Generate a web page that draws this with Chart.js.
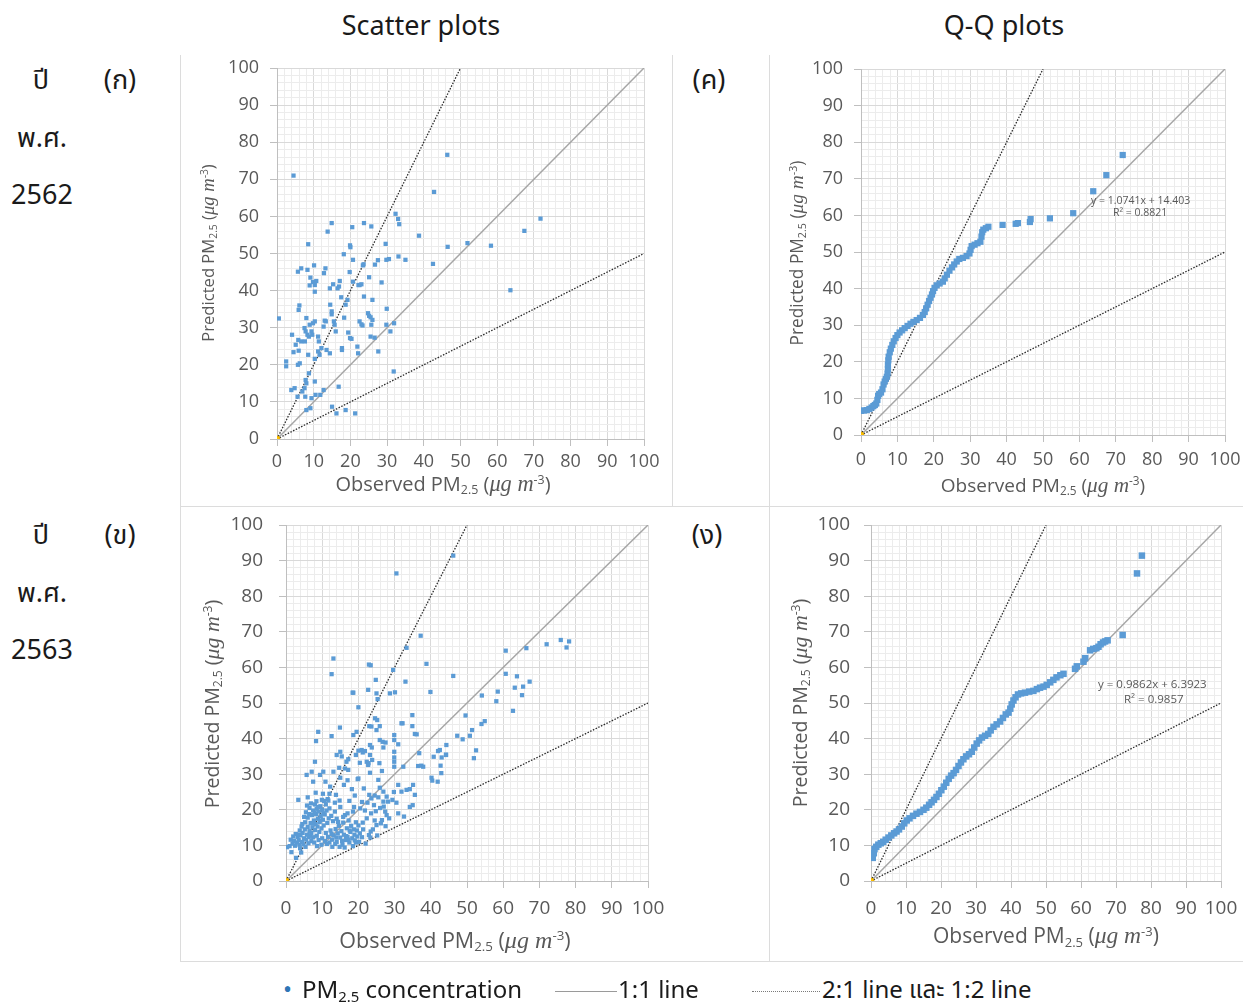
<!DOCTYPE html>
<html>
<head>
<meta charset="utf-8">
<script src="https://cdn.jsdelivr.net/npm/chart.js@4.4.1/dist/chart.umd.min.js"></script>
<style>
  body { margin: 0; background: #fff; }
  #page { position: relative; width: 1243px; height: 1005px; overflow: hidden; font-family: "Open Sans", sans-serif; }
  canvas { position: absolute; }
  .lbl { position: absolute; transform: translate(-50%, -50%); white-space: nowrap; color: #1a1a1a; font-size: 27px; font-family: "Noto Sans Thai", "Noto Sans", "Open Sans", sans-serif; }
  .axt { position: absolute; white-space: nowrap; color: #595959; font-family: "Open Sans", sans-serif; }
  .axt i { font-family: "Liberation Serif", serif; font-size: 1.12em; }
  .axt sub { font-size: 0.62em; vertical-align: -0.25em; }
  .axt sup { font-size: 0.62em; vertical-align: 0.6em; }
  .rot { transform: translate(-50%, -50%) rotate(-90deg); }
  .hor { transform: translate(-50%, -50%); }
  .eq { position: absolute; white-space: nowrap; color: #595959; transform: translateY(-50%); font-family: "Open Sans", sans-serif; }
  .rule { position: absolute; background: #dcdcdc; }
  .leg { position: absolute; white-space: nowrap; color: #1a1a1a; font-size: 24px; transform: translateY(-50%); font-family: "Noto Sans Thai", "Noto Sans", "Open Sans", sans-serif; }
  .leg sub { font-size: 0.62em; vertical-align: -0.3em; }
</style>
</head>
<body>
<div id="page">
  <div class="rule" style="left:180px;top:55px;width:1px;height:906px"></div>
  <div class="rule" style="left:672px;top:55px;width:1px;height:451px"></div>
  <div class="rule" style="left:769px;top:55px;width:1px;height:906px"></div>
  <div class="rule" style="left:180px;top:506px;width:1063px;height:1px"></div>
  <div class="rule" style="left:180px;top:961px;width:1063px;height:1px"></div>

  <canvas id="panelA"></canvas>
  <canvas id="panelB"></canvas>
  <canvas id="panelC"></canvas>
  <canvas id="panelD"></canvas>

  <div class="lbl" style="left:421px;top:26px">Scatter plots</div>
  <div class="lbl" style="left:1004px;top:26px">Q-Q plots</div>

  <div class="lbl" style="left:41px;top:80px">ปี</div>
  <div class="lbl" style="left:120px;top:80px">(ก)</div>
  <div class="lbl" style="left:42px;top:138px">พ.ศ.</div>
  <div class="lbl" style="left:42px;top:195px">2562</div>
  <div class="lbl" style="left:41px;top:535px">ปี</div>
  <div class="lbl" style="left:120px;top:535px">(ข)</div>
  <div class="lbl" style="left:42px;top:593px">พ.ศ.</div>
  <div class="lbl" style="left:42px;top:650px">2563</div>
  <div class="lbl" style="left:709px;top:80px">(ค)</div>
  <div class="lbl" style="left:707px;top:535px">(ง)</div>

  <div class="axt rot" style="left:208px;top:253px;font-size:16.6px">Predicted PM<sub>2.5</sub> (<i>μg m</i><sup>-3</sup>)</div>
  <div class="axt hor" style="left:443px;top:484px;font-size:20px">Observed PM<sub>2.5</sub> (<i>μg m</i><sup>-3</sup>)</div>
  <div class="axt rot" style="left:797px;top:253px;font-size:17.3px">Predicted PM<sub>2.5</sub> (<i>μg m</i><sup>-3</sup>)</div>
  <div class="axt hor" style="left:1043px;top:485px;font-size:19px">Observed PM<sub>2.5</sub> (<i>μg m</i><sup>-3</sup>)</div>
  <div class="axt rot" style="left:212px;top:704px;font-size:19.5px">Predicted PM<sub>2.5</sub> (<i>μg m</i><sup>-3</sup>)</div>
  <div class="axt hor" style="left:455px;top:940px;font-size:21.5px">Observed PM<sub>2.5</sub> (<i>μg m</i><sup>-3</sup>)</div>
  <div class="axt rot" style="left:800px;top:703px;font-size:19.5px">Predicted PM<sub>2.5</sub> (<i>μg m</i><sup>-3</sup>)</div>
  <div class="axt hor" style="left:1046px;top:936px;font-size:21px">Observed PM<sub>2.5</sub> (<i>μg m</i><sup>-3</sup>)</div>

  <div class="eq" style="left:1091px;top:200px;font-size:10.5px">y = 1.0741x + 14.403</div>
  <div class="eq" style="left:1113px;top:212px;font-size:10.5px">R² = 0.8821</div>
  <div class="eq" style="left:1098px;top:683px;font-size:11.5px">y = 0.9862x + 6.3923</div>
  <div class="eq" style="left:1124px;top:698px;font-size:11.5px">R² = 0.9857</div>

  <div class="leg" style="left:283px;top:991px;color:#2e75b6">•</div>
  <div class="leg" style="left:302px;top:991px">PM<sub>2.5</sub> concentration</div>
  <div class="rule" style="left:555px;top:991px;width:62px;height:1px;background:#9a9a9a"></div>
  <div class="leg" style="left:618px;top:991px">1:1 line</div>
  <div class="rule" style="left:752px;top:991px;width:68px;height:0;border-top:1px dotted #7a7a7a;background:none"></div>
  <div class="leg" style="left:822px;top:991px">2:1 line และ 1:2 line</div>
</div>

<script>
// axis ticks (labels every 10, minor grid every 2)
const axisMin = 0;
const axisMax = 100;
const minorStep = 2;
const majorStep = 10;

// reference lines
const lineOneToOne = [[0, 0], [100, 100]];
const lineTwoToOne = [[0, 0], [50, 100]];
const lineOneToTwo = [[0, 0], [100, 50]];
const originMark = [[0, 0]];

// (ก) scatter 2562: [observed, predicted]
const scatter2562 = [
  [0.5,32.5],[4.5,71.0],[2.5,20.9],[2.5,19.6],[3.9,13.2],[4.8,13.7],[4.1,28.1],[4.5,23.4],[5.1,25.4],[5.7,45.1],
  [6.6,46.0],[5.9,34.8],[6.1,36.0],[5.8,26.7],[5.7,20.0],[6.2,20.4],[5.9,23.8],[5.6,11.4],[6.9,12.8],[6.6,26.3],
  [7.5,29.9],[7.8,29.0],[7.6,26.3],[8.5,52.5],[8.3,45.6],[8.9,41.4],[9.1,43.5],[8.0,32.6],[8.3,28.1],[8.7,27.6],
  [8.9,30.8],[9.4,29.0],[9.8,31.2],[8.5,22.7],[8.7,17.7],[7.8,15.9],[8.0,15.0],[7.5,13.7],[7.7,11.4],[8.0,7.8],
  [9.1,8.3],[9.4,11.0],[10.5,11.9],[10.3,15.5],[10.1,46.8],[9.8,42.3],[10.3,41.5],[10.3,39.7],[10.7,42.6],[10.3,31.7],
  [9.6,28.1],[10.3,21.6],[11.2,27.6],[11.4,26.3],[11.2,23.6],[11.6,22.7],[12.1,24.5],[11.8,11.9],[12.7,13.2],[12.7,30.3],
  [12.8,44.7],[13.2,46.0],[13.0,31.9],[13.3,31.7],[13.5,24.0],[13.8,55.9],[14.9,58.2],[14.4,40.6],[14.5,36.2],[14.9,34.4],
  [14.9,33.6],[15.3,41.7],[14.4,23.1],[15.0,8.7],[15.5,31.7],[15.7,30.8],[16.0,29.0],[16.2,6.9],[16.5,40.6],[16.9,41.1],
  [17.1,42.6],[16.8,14.1],[17.5,38.2],[17.7,24.5],[17.7,24.0],[18.2,49.8],[18.3,32.7],[18.7,36.2],[19.2,37.5],[19.4,28.7],
  [18.7,7.8],[19.9,52.2],[20.0,51.7],[19.8,45.0],[19.9,27.2],[20.3,27.0],[20.5,57.1],[20.7,48.3],[20.7,42.4],[21.3,6.9],
  [21.9,24.9],[22.1,23.1],[22.2,41.5],[22.5,41.5],[23.0,41.7],[22.5,31.7],[23.0,30.9],[23.3,30.6],[23.4,46.8],[23.6,47.1],
  [23.7,58.2],[23.7,38.4],[24.8,33.9],[25.1,33.2],[25.1,43.6],[25.7,57.3],[25.5,32.8],[26.0,32.1],[25.7,30.8],[25.5,27.6],
  [26.0,37.5],[26.7,47.0],[26.6,27.3],[27.5,48.2],[27.6,23.6],[28.5,42.2],[29.6,52.6],[29.8,48.3],[30.5,48.5],[29.9,35.1],
  [29.8,30.8],[30.9,29.0],[31.8,18.2],[31.9,31.2],[32.3,60.7],[33.0,59.3],[33.3,57.9],[33.1,49.2],[35.0,48.3],[38.7,54.8],
  [42.5,47.2],[42.8,66.6],[46.4,76.6],[46.5,51.8],[51.9,52.8],[58.3,52.1],[63.6,40.1],[67.4,56.1],[71.8,59.4]
];

// (ข) scatter 2563: [observed, predicted]
const scatter2563 = [
  [46.2,91.4],[30.5,86.4],[37.2,68.9],[33.3,65.5],[13.1,62.5],[12.6,58.1],[22.9,60.8],[23.4,60.6],[38.8,61.0],[29.6,59.3],
  [24.8,56.5],[33.0,56.0],[18.6,52.9],[22.7,53.7],[28.7,52.7],[30.1,53.0],[39.9,53.1],[25.3,51.1],[20.0,48.8],[46.2,57.6],
  [60.7,64.7],[66.4,65.4],[72.0,66.5],[75.9,67.7],[78.2,67.3],[77.5,65.6],[60.7,58.2],[63.8,57.5],[67.3,56.0],[63.2,54.3],
  [65.5,54.6],[65.2,52.2],[58.5,53.2],[58.1,50.5],[62.7,47.8],[54.1,52.1],[49.6,46.5],[54.0,44.1],[54.9,44.9],[47.3,40.8],
  [48.8,39.8],[50.8,40.8],[51.4,42.4],[52.5,36.7],[51.9,34.5],[44.3,38.2],[44.2,35.4],[43.0,34.7],[42.7,32.4],[42.9,30.3],
  [42.5,36.8],[29.9,41.0],[29.9,39.6],[29.9,36.3],[29.9,34.7],[29.9,33.5],[29.9,32.1],[31.0,38.4],[32.2,44.3],[34.9,46.6],
  [34.9,43.5],[36.1,41.2],[36.8,35.9],[37.4,32.4],[37.9,32.1],[40.2,29.0],[40.4,28.2],[41.9,27.9],[40.8,34.9],[42.0,36.5],
  [44.2,35.5],[31.0,27.0],[31.9,25.1],[33.3,25.6],[34.2,25.8],[35.1,27.0],[35.6,24.2],[35.0,21.3],[34.2,20.8],[29.4,22.8],
  [31.0,19.0],[32.6,18.1],[25.9,26.2],[26.9,25.1],[27.8,23.7],[26.9,22.3],[27.0,20.9],[27.4,19.5],[27.8,18.5],[28.5,17.6],
  [25.0,15.7],[26.2,16.2],[26.5,17.1],[22.3,17.6],[23.4,13.9],[22.9,12.9],[20.4,13.4],[19.7,12.5],[23.0,24.2],[23.6,23.2],
  [24.3,21.3],[26.5,30.9],[25.8,33.1],[14.9,43.1],[12.6,40.7],[8.9,41.9],[8.3,39.3],[8.0,33.5],[14.0,35.4],[13.1,30.7],
  [14.7,31.8],[15.4,35.0],[5.7,29.8],[3.4,22.8],[7.1,30.7],[7.5,27.9],[9.4,29.8],[10.3,30.7],[10.9,27.9],[16.7,33.5],
  [17.2,31.2],[18.6,41.0],[19.5,41.9],[18.4,52.9],[20.9,36.8],[21.2,36.1],[21.8,36.5],[22.3,33.5],[22.8,33.1],[23.2,38.2],
  [23.7,37.5],[24.6,45.7],[25.2,45.2],[25.0,52.7],[25.9,39.6],[26.7,39.1],[27.5,38.9],[23.0,43.5],[23.6,43.4],[25.0,42.4],
  [25.9,43.5],[31.9,44.3],[35.6,41.3],[20.0,36.6],[19.3,35.4],[17.2,34.2],[23.2,35.4],[23.8,34.0],[26.9,37.5],[32.4,32.1],
  [36.5,32.3],[15.0,36.3],[16.3,31.6],[20.4,33.2],[22.7,32.6],[20.0,28.8],[23.2,30.4],[25.5,28.4],
  [11.5,23.0],[12.2,26.5],[13.8,24.2],[16.0,27.0],[17.5,22.5],[18.2,25.8],[19.0,24.0],[19.8,28.6],[21.0,22.2],[21.5,26.0],
  [15.0,29.0],[17.0,28.3],[18.8,20.8],[20.5,20.4],[21.8,19.8],[22.5,22.0],[24.5,24.0],[25.5,23.5],[24.8,19.6],[23.5,19.0],
  [21.2,16.4],[20.0,15.6],[24.0,14.5],[22.0,10.5],[21.0,12.3],[19.3,10.8],[24.5,17.0],[25.2,12.8],[23.3,12.2],[21.3,14.5],
  [27.5,15.4],[26.0,20.5],[28.2,22.3],[29.8,25.0],[30.5,22.0],
  [0.3,9.5],[1.0,9.8],[1.5,8.1],[1.8,10.5],[2.2,11.2],[2.5,9.9],[2.8,6.5],[3.0,10.8],[3.2,12.4],[3.5,11.5],
  [3.7,10.2],[4.0,12.8],[4.2,8.0],[4.4,11.0],[4.6,13.5],[4.8,10.3],[5.0,12.0],[5.2,14.5],[5.3,16.5],[5.5,19.3],
  [5.6,11.6],[5.8,13.0],[6.0,15.2],[6.0,17.8],[6.2,10.6],[6.3,12.4],[6.5,14.0],[6.5,20.5],[6.8,16.3],[7.0,11.2],
  [7.0,13.5],[7.2,18.5],[7.3,15.1],[7.5,12.3],[7.5,19.8],[7.7,17.0],[7.8,10.8],[8.0,14.3],[8.0,21.5],[8.2,16.0],
  [8.3,18.8],[8.5,12.7],[8.5,20.3],[8.7,15.3],[8.8,17.5],[9.0,11.5],[9.0,19.5],[9.2,13.8],[9.3,16.6],[9.5,21.0],
  [9.6,18.2],[9.8,14.8],[10.0,12.0],[10.0,20.0],[10.2,17.2],[10.4,15.6],[10.5,22.5],[10.7,18.7],[10.8,11.2],[11.0,13.5],
  [11.2,19.8],[11.4,16.3],[11.6,12.4],[11.8,17.6],[12.0,10.8],[12.0,20.4],[12.3,14.2],[12.5,18.3],[12.7,11.6],[13.0,16.8],
  [13.2,12.8],[13.5,19.5],[13.7,14.6],[14.0,11.0],[14.0,17.5],[14.3,13.4],[14.6,15.5],[15.0,12.2],[15.0,20.8],[15.3,14.0],
  [15.6,10.2],[15.8,16.4],[16.0,13.0],[16.3,18.5],[16.5,11.5],[16.8,14.8],[17.0,12.4],[17.3,17.0],[17.5,10.8],[17.8,13.8],
  [18.0,15.5],[18.3,12.0],[18.5,19.5],[18.8,14.5],[19.0,11.4],[19.3,16.5],
  [4.5,16.0],[5.0,18.0],[5.8,21.2],[6.4,18.8],[6.9,21.8],[7.4,16.2],[7.9,19.2],[8.4,22.4],[8.9,20.8],[9.4,17.0],
  [9.9,22.8],[10.3,19.0],[11.0,21.5],[11.7,22.6],[3.8,14.2],[4.3,15.3],[2.7,13.2],[3.6,13.0],[6.7,12.8],[5.4,9.6],
  [3.9,9.2],[2.0,12.5],[1.3,11.6],[8.6,9.8],[9.8,10.2],[11.3,10.4],[12.8,9.6],[13.6,10.4],[14.8,9.6],[16.2,9.4],
  [17.2,11.6],[18.5,9.8],[20.2,11.0],[12.6,13.2],[13.9,12.2],[15.5,11.2],[16.6,12.6],[17.6,14.2],[18.9,13.0],[19.6,14.2],
  [14.4,16.6],[15.8,18.0],[17.0,19.0],[12.0,24.5],[10.2,24.5],[8.2,24.8],[6.0,23.5],[13.5,22.0],[14.8,22.6]
];

// (ค) Q-Q 2562: [observed quantile, predicted quantile]
const qq2562 = [
  [0,6.6],[0.8,6.7],[1.6,6.8],[2.3,7.1],[2.9,7.5],[3.4,7.9],[3.8,8.2],[4.2,8.6],[4.5,9.6],[4.7,10.7],
  [5.0,11.2],[5.5,11.6],[5.9,12.5],[6.2,13.8],[6.5,14.6],[6.8,15.3],[7.1,15.9],[7.3,16.8],[7.4,18.0],[7.4,19.2],
  [7.5,20.4],[7.6,21.4],[7.9,22.6],[8.2,23.6],[8.6,24.6],[9.0,25.6],[9.5,26.5],[10.0,27.3],[10.6,28.0],[11.3,28.6],
  [12.0,29.2],[12.8,29.8],[13.6,30.4],[14.4,30.9],[15.3,31.4],[16.2,32.0],[17.0,32.8],[17.5,33.6],[17.9,34.6],[18.3,35.6],
  [18.7,36.6],[19.1,37.5],[19.5,38.4],[19.8,39.3],[20.2,40.2],[20.8,40.9],[21.6,41.4],[22.5,41.9],[23.0,42.8],[23.6,43.8],
  [24.3,44.9],[25.0,45.8],[25.6,46.6],[26.3,47.4],[27.0,48.1],[28.0,48.4],[29.0,48.9],[29.8,49.6],[30.1,50.6],[30.4,51.6],
  [31.2,52.0],[32.0,52.4],[32.8,52.8],[33.1,54.2],[33.3,55.4],[33.6,56.1],[34.3,56.5],[35.0,56.9],[38.9,57.4],[42.5,57.7],
  [43.1,57.9],[46.4,58.2],[46.6,59.0],[51.9,59.2],[58.3,60.6],[63.8,66.6],[67.4,71.0],[71.9,76.5]
];

// (ง) Q-Q 2563: [observed quantile, predicted quantile]
const qq2563 = [
  [0.5,6.5],[0.8,7.8],[1.0,9.0],[1.5,9.6],[2.1,10.2],[2.8,10.6],[3.5,11.0],[4.2,11.6],[5.0,12.2],[5.8,12.8],
  [6.6,13.4],[7.3,13.9],[8.0,14.5],[8.8,15.3],[9.5,16.2],[10.2,17.0],[11.0,17.6],[12.0,18.3],[13.0,18.9],[14.0,19.4],
  [15.0,20.0],[15.8,20.6],[16.6,21.4],[17.3,22.1],[18.0,22.8],[18.7,23.6],[19.4,24.5],[20.1,25.5],[20.8,26.5],[21.5,27.6],
  [22.2,28.7],[22.9,29.6],[23.6,30.3],[24.3,31.2],[25.0,32.3],[25.7,33.3],[26.4,34.2],[27.2,35.0],[28.0,35.6],[28.8,36.3],
  [29.5,37.5],[30.2,38.6],[30.9,39.5],[31.7,40.3],[32.6,40.8],[33.5,41.3],[34.2,42.3],[35.0,43.3],[35.9,44.0],[36.9,44.8],
  [37.7,45.8],[38.5,46.8],[39.3,47.3],[39.8,48.4],[40.2,49.6],[40.7,50.7],[41.3,51.6],[42.0,52.4],[42.9,52.7],[44.0,52.9],
  [45.2,53.2],[46.4,53.4],[47.4,53.9],[48.3,54.3],[49.3,54.6],[50.2,55.1],[51.2,55.8],[52.1,56.5],[53.0,57.2],[54.1,57.8],
  [55.0,58.2],[58.3,59.6],[58.8,60.3],[60.7,61.6],[61.2,62.6],[62.6,64.8],[63.5,65.2],[64.4,65.4],[65.0,65.8],[65.6,66.5],
  [66.3,67.0],[66.9,67.3],[67.6,67.6],[71.9,69.1],[76.0,86.4],[77.4,91.4]
];

const pointColor = '#5b9bd5';
const toXY = arr => arr.map(p => ({ x: p[0], y: p[1] }));

const makePanel = (id, points, cfg) => {
  const canvas = document.getElementById(id);
  canvas.width = cfg.w;
  canvas.height = cfg.h;
  canvas.style.left = cfg.left + 'px';
  canvas.style.top = cfg.top + 'px';

  const isMajor = ctx => ctx.tick && ctx.tick.value % majorStep === 0;
  const axis = (pad, fit) => ({
    type: 'linear',
    min: axisMin,
    max: axisMax,
    afterFit: fit,
    border: { color: '#bfbfbf', width: 1 },
    grid: {
      color: ctx => isMajor(ctx) ? '#d9d9d9' : '#ececec',
      tickColor: ctx => isMajor(ctx) ? '#bfbfbf' : 'rgba(0,0,0,0)',
      tickLength: 7,
      lineWidth: 1
    },
    ticks: {
      stepSize: minorStep,
      autoSkip: false,
      maxRotation: 0,
      padding: pad,
      color: '#595959',
      font: { family: '"Open Sans", sans-serif', size: cfg.font },
      callback: v => (v % majorStep === 0 ? v : '')
    }
  });

  new Chart(canvas.getContext('2d'), {
    type: 'scatter',
    data: {
      datasets: [
        {
          data: toXY(originMark),
          pointStyle: 'circle', pointRadius: 3,
          backgroundColor: '#ffc000', borderColor: '#e0a800', borderWidth: 1
        },
        {
          data: toXY(points),
          pointStyle: 'rect', pointRadius: cfg.r,
          backgroundColor: pointColor, borderColor: pointColor, borderWidth: 0
        },
        {
          data: toXY(lineOneToOne), showLine: true, pointRadius: 0,
          borderColor: '#a6a6a6', borderWidth: 1.5
        },
        {
          data: toXY(lineTwoToOne), showLine: true, pointRadius: 0,
          borderColor: '#2a2a2a', borderWidth: 1.3, borderDash: [1.5, 1.5]
        },
        {
          data: toXY(lineOneToTwo), showLine: true, pointRadius: 0,
          borderColor: '#2a2a2a', borderWidth: 1.3, borderDash: [1.5, 1.5]
        }
      ]
    },
    options: {
      responsive: false,
      animation: false,
      devicePixelRatio: 1,
      layout: { padding: { top: cfg.padTop, right: cfg.padRight, left: 0, bottom: 0 } },
      plugins: { legend: { display: false }, tooltip: { enabled: false } },
      scales: {
        x: axis(cfg.xPad, s => { s.height = cfg.xH; s.paddingLeft = 0; s.paddingRight = 0; }),
        y: axis(cfg.yPad, s => { s.width = cfg.yW; s.paddingTop = 0; s.paddingBottom = 0; })
      }
    }
  });
};

makePanel('panelA', scatter2562, { left: 180, top: 55, w: 492, h: 450, padTop: 13, padRight: 28, yW: 97, xH: 66, yPad: 11, xPad: 5, r: 3, font: 18 });
makePanel('panelC', qq2562, { left: 769, top: 55, w: 474, h: 450, padTop: 14, padRight: 18, yW: 92, xH: 70, yPad: 11, xPad: 7, r: 4.4, font: 18 });
makePanel('panelB', scatter2563, { left: 180, top: 507, w: 492, h: 454, padTop: 18, padRight: 24, yW: 106, xH: 80, yPad: 16, xPad: 9, r: 3, font: 19 });
makePanel('panelD', qq2563, { left: 769, top: 507, w: 474, h: 454, padTop: 18, padRight: 22, yW: 102, xH: 80, yPad: 14, xPad: 9, r: 4.6, font: 19 });
</script>
</body>
</html>
